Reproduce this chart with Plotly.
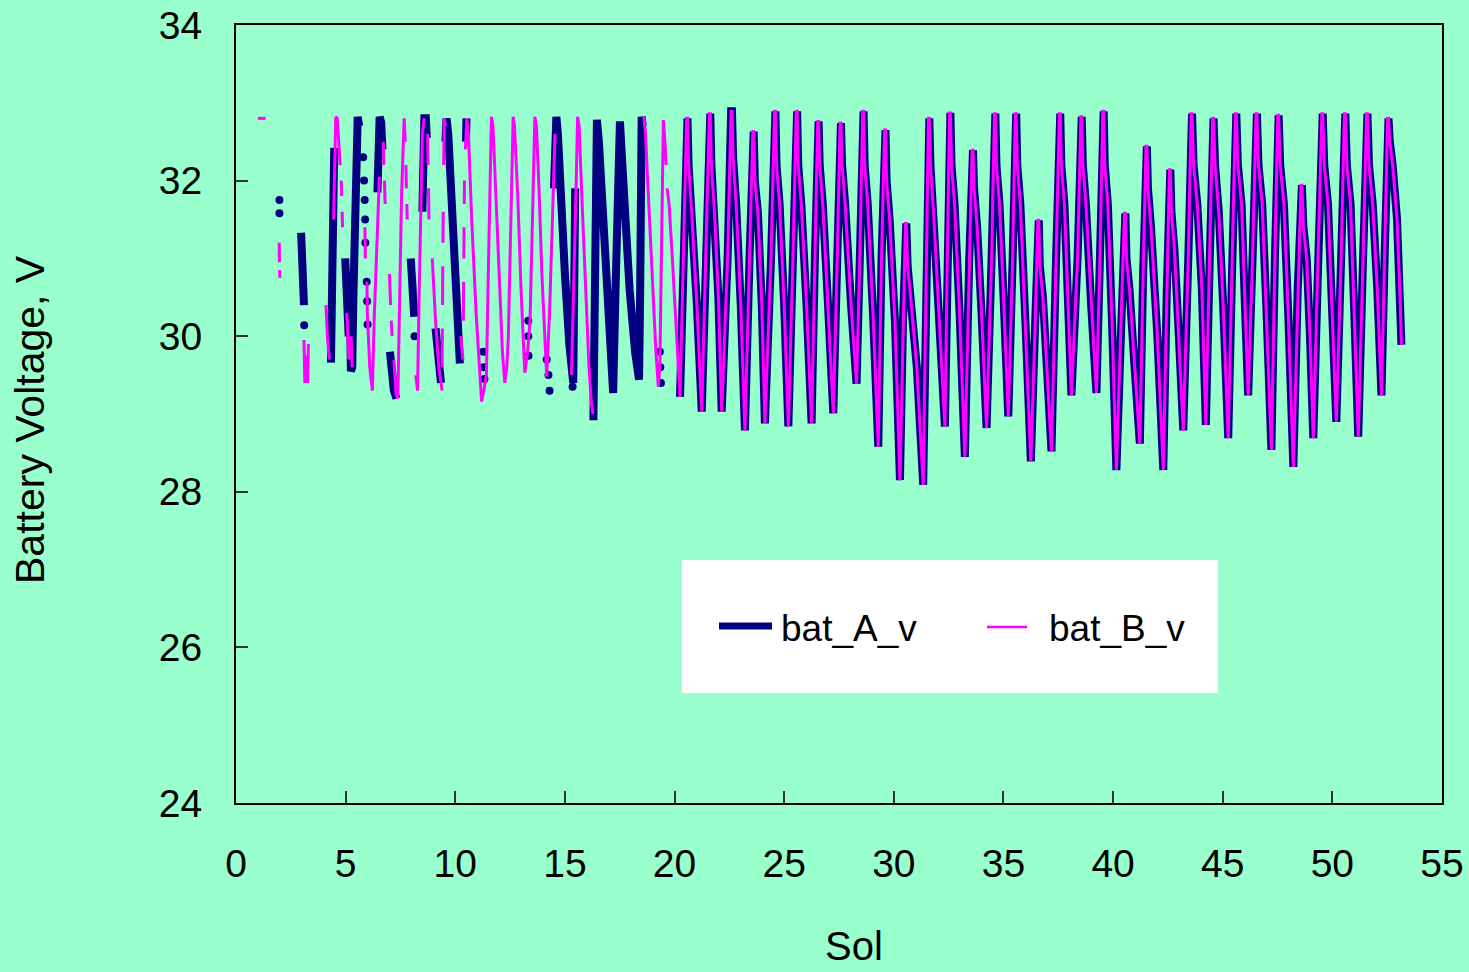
import plotly.graph_objects as go

# ---------------- data ----------------
# bat_A_v, early sols (gappy record); None marks a data gap
A_early_sol = [2.97, 3.04, 3.10, None,
               4.33, 4.40, 4.48, None,
               4.98, 5.06, 5.14, 5.20, 5.24, 5.30, 5.36, 5.40, 5.45, 5.50, 5.55, 5.62, None,
               6.45, 6.48, 6.55, 6.62, 6.68, None,
               7.02, 7.10, 7.20, 7.32, None,
               7.97, 8.03, 8.10, 8.13, None,
               8.50, 8.53, 8.59, 8.66, 8.70, None,
               9.10, 9.20, 9.30, 9.35, None,
               9.55, 9.60, 9.68, 9.80, 9.95, 10.10, 10.21, None,
               10.49, 10.51, None,
               14.50, 14.55, 14.61, 14.68, 14.80, 15.00, 15.20, 15.38, 15.42, 15.47, None,
               16.30, 16.37, 16.42, 16.46, 16.55, 16.70, 16.90, 17.05, 17.20, 17.30, 17.42, 17.51,
               17.60, 17.75, 17.95, 18.20, 18.38, 18.43, 18.47, 18.50, 18.55, None]
A_early_v = [31.33, 30.85, 30.40, None,
             29.66, 31.0, 32.42, None,
             31.0, 30.4, 30.0, 30.3, 29.55, 29.6, 30.6, 31.5, 32.0, 32.4, 32.82, 32.7, None,
             31.85, 32.2, 32.82, 32.75, 32.4, None,
             29.8, 29.5, 29.3, 29.2, None,
             31.0, 30.7, 30.4, 30.25, None,
             31.6, 32.4, 32.8, 32.8, 32.55, None,
             30.1, 29.8, 29.5, 29.4, None,
             32.5, 32.8, 32.6, 31.8, 30.8, 30.0, 29.65, None,
             32.5, 32.8, None,
             31.9, 32.5, 32.82, 32.6, 31.8, 30.8, 29.9, 29.4, 30.5, 31.9, None,
             28.92, 30.5, 32.0, 32.78, 32.5, 31.8, 30.8, 29.8, 29.27, 30.5, 32.0, 32.76,
             32.3, 31.5, 30.6, 29.8, 29.44, 30.5, 31.8, 32.82, 32.7, None]

# bat_A_v isolated samples
A_dot_sol = [1.98, 1.98, 3.11, 5.80, 5.84, 5.87, 5.89, 5.90, 5.96, 5.98, 6.00, 8.14,
             11.28, 11.30, 11.33, 13.33, 13.33, 13.34, 14.17, 14.25, 14.30,
             15.30, 15.33, 15.35, 19.33, 19.35, 19.38]
A_dot_v = [31.75, 31.58, 30.14, 32.3, 32.0, 31.75, 31.5, 31.2, 30.7, 30.45, 30.15, 30.0,
           29.8, 29.6, 29.45, 30.2, 30.0, 29.75, 29.7, 29.5, 29.3,
           29.9, 29.6, 29.35, 29.8, 29.6, 29.4]

# bat_B_v, early sols (gappy / dashed record)
B_early_sol = [1.00, 1.35, None,
               1.97, 1.98, None, 1.99, 2.00, None,
               3.10, 3.14, 3.20, 3.27, 3.30, None,
               4.10, 4.18, 4.26, None,
               4.45, 4.50, 4.55, 4.62, 4.70, 4.75, None,
               4.80, 4.82, None, 4.84, 4.86, None,
               5.05, 5.15, 5.25, 5.30, None,
               5.88, 5.90, None,
               5.97, 5.99, 6.10, 6.22, 6.30, 6.42, 6.54, None,
               6.72, 6.74, None, 6.77, 6.80, None,
               7.00, 7.05, None, 7.08, 7.12, None,
               7.20, 7.30, 7.38, 7.45, 7.55, 7.67, 7.72, None,
               7.75, 7.77, None, 7.79, 7.81, None,
               8.20, 8.28, 8.35, 8.43, 8.50, 8.58, None,
               8.74, 8.76, None, 8.78, 8.80, None,
               8.95, 9.10, 9.25, 9.40, None,
               9.40, 9.41, None, 9.42, 9.43, None, 9.44, 9.45, None,
               9.47, 9.50, 9.55, None,
               10.25, 10.35, None, 10.37, 10.38, None, 10.39, 10.40, None, 10.41, 10.42, None,
               10.46, 10.53, 10.60, 10.75, 10.95, 11.15, 11.20, 11.30, 11.42, 11.52, 11.60, 11.65,
               11.72, 11.85, 12.00, 12.15, 12.26, 12.35, 12.42, 12.52, 12.60, 12.64, 12.70, 12.85,
               13.00, 13.10, 13.17, 13.30, 13.41, 13.52, 13.63, 13.70, 13.82, 13.95, 14.10, 14.17,
               14.30, 14.45, 14.55, None,
               15.30, 15.40, 15.50, 15.58, 15.65, 15.80, 15.95, 16.10, 16.21, 16.28, None,
               18.60, 18.68, 18.74, 18.85, 19.00, 19.15, 19.26, 19.33, 19.40, 19.45, 19.49, 19.56,
               19.62, None,
               19.66, 19.75, 19.90, 20.05, 20.17]
B_early_v = [32.8, 32.8, None,
             31.2, 30.95, None, 30.85, 30.75, None,
             29.95, 29.4, 29.75, 29.4, 29.9, None,
             30.4, 29.95, 29.7, None,
             31.5, 32.3, 32.82, 32.8, 32.5, 32.2, None,
             32.0, 31.8, None, 31.6, 31.4, None,
             30.3, 29.7, 30.0, 29.6, None,
             31.4, 31.0, None,
             30.7, 30.3, 29.6, 29.3, 30.2, 31.2, 32.05, None,
             32.5, 32.2, None, 32.0, 31.7, None,
             30.8, 30.4, None, 30.2, 30.0, None,
             29.7, 29.25, 29.2, 30.5, 31.8, 32.8, 32.5, None,
             32.2, 31.9, None, 31.7, 31.5, None,
             29.5, 29.3, 30.5, 31.9, 32.6, 32.8, None,
             32.6, 32.2, None, 31.9, 31.5, None,
             31.0, 30.2, 29.6, 29.3, None,
             29.6, 30.1, None, 30.4, 30.9, None, 31.2, 31.6, None,
             32.2, 32.8, 32.7, None,
             30.0, 29.7, None, 30.2, 30.7, None, 31.0, 31.4, None, 31.7, 32.0, None,
             32.4, 32.8, 32.6, 31.5, 30.3, 29.4, 29.16, 29.3, 29.5, 31.0, 32.2, 32.82,
             32.7, 31.8, 30.8, 29.8, 29.4, 29.6, 30.0, 31.5, 32.4, 32.82, 32.7, 31.8,
             30.6, 29.9, 29.53, 29.8, 30.2, 31.5, 32.82, 32.7, 31.9, 30.8, 29.8, 29.48,
             30.3, 31.8, 32.6, None,
             29.5, 30.5, 31.8, 32.82, 32.7, 31.6, 30.6, 29.6, 29.14, 29.0, None,
             32.82, 32.6, 32.2, 31.5, 30.6, 29.8, 29.35, 29.6, 31.0, 32.2, 32.78, 32.5,
             32.2, None,
             31.9, 31.7, 31.0, 30.2, 29.57]

# from sol ~20.25 both batteries record continuously (daily charge / discharge cycles)
# per sol: trough, mid-rise, peak, peak plateau, drop, shoulder, late decline
late_sol = [20.25, 20.40, 20.55, 20.59, 20.64, 20.78, 21.02,
            21.24, 21.42, 21.59, 21.63, 21.68, 21.82, 22.00,
            22.15, 22.42, 22.58, 22.62, 22.67, 22.81, 23.02,
            23.21, 23.42, 23.57, 23.61, 23.66, 23.80, 23.98,
            24.12, 24.40, 24.56, 24.60, 24.65, 24.79, 25.00,
            25.19, 25.40, 25.55, 25.59, 25.64, 25.78, 26.02,
            26.25, 26.40, 26.53, 26.57, 26.62, 26.76, 27.00,
            27.24, 27.42, 27.55, 27.59, 27.64, 27.78, 28.05,
            28.30, 28.45, 28.58, 28.62, 28.67, 28.81, 29.05,
            29.29, 29.44, 29.58, 29.62, 29.67, 29.81, 30.05,
            30.28, 30.42, 30.53, 30.57, 30.63, 30.77, 31.05,
            31.34, 31.46, 31.58, 31.62, 31.67, 31.81, 32.05,
            32.33, 32.44, 32.54, 32.58, 32.63, 32.77, 33.00,
            33.24, 33.44, 33.57, 33.61, 33.66, 33.80, 34.00,
            34.23, 34.46, 34.59, 34.63, 34.68, 34.82, 35.02,
            35.22, 35.42, 35.54, 35.58, 35.63, 35.77, 36.00,
            36.25, 36.45, 36.57, 36.61, 36.66, 36.80, 36.98,
            37.19, 37.40, 37.55, 37.59, 37.64, 37.78, 37.95,
            38.10, 38.38, 38.53, 38.57, 38.62, 38.76, 39.00,
            39.24, 39.40, 39.53, 39.57, 39.62, 39.76, 39.95,
            40.15, 40.38, 40.52, 40.56, 40.61, 40.75, 40.98,
            41.22, 41.37, 41.50, 41.54, 41.59, 41.73, 42.02,
            42.29, 42.45, 42.57, 42.61, 42.66, 42.80, 43.00,
            43.20, 43.43, 43.56, 43.60, 43.67, 43.84, 44.05,
            44.23, 44.41, 44.54, 44.58, 44.65, 44.82, 45.02,
            45.25, 45.44, 45.58, 45.62, 45.69, 45.86, 46.00,
            46.16, 46.36, 46.52, 46.56, 46.63, 46.80, 47.00,
            47.22, 47.38, 47.51, 47.55, 47.62, 47.79, 48.00,
            48.22, 48.42, 48.57, 48.61, 48.68, 48.83, 48.98,
            49.13, 49.36, 49.52, 49.56, 49.63, 49.80, 49.98,
            50.18, 50.40, 50.55, 50.59, 50.66, 50.83, 51.00,
            51.18, 51.40, 51.56, 51.60, 51.67, 51.84, 52.05,
            52.24, 52.40, 52.52, 52.56, 52.62, 52.75, 52.95, 53.10, 53.15]
late_A_v = [29.22, 31.0, 32.80, 32.80, 32.2, 31.6, 30.4,
            29.03, 31.0, 32.86, 32.86, 32.2, 31.6, 30.5,
            29.03, 31.0, 32.89, 32.89, 32.3, 31.7, 30.4,
            28.79, 31.0, 32.63, 32.63, 32.0, 31.6, 30.4,
            28.88, 31.0, 32.89, 32.89, 32.2, 31.7, 30.4,
            28.84, 31.0, 32.89, 32.89, 32.2, 31.7, 30.4,
            28.88, 31.0, 32.76, 32.76, 32.2, 31.7, 30.4,
            29.01, 31.0, 32.74, 32.74, 32.2, 31.7, 30.4,
            29.39, 31.0, 32.89, 32.89, 32.2, 31.7, 30.3,
            28.58, 31.0, 32.65, 32.65, 32.0, 31.5, 30.2,
            28.15, 30.2, 31.45, 31.45, 30.9, 30.5, 29.6,
            28.09, 30.6, 32.80, 32.80, 32.2, 31.6, 30.3,
            28.84, 31.0, 32.87, 32.87, 32.2, 31.7, 30.3,
            28.45, 31.0, 32.39, 32.39, 31.9, 31.4, 30.3,
            28.82, 31.0, 32.86, 32.86, 32.2, 31.7, 30.4,
            28.97, 31.0, 32.86, 32.86, 32.2, 31.7, 30.2,
            28.39, 30.2, 31.49, 31.49, 30.9, 30.5, 29.6,
            28.52, 31.0, 32.86, 32.86, 32.2, 31.7, 30.4,
            29.24, 31.0, 32.82, 32.82, 32.2, 31.7, 30.4,
            29.27, 31.0, 32.89, 32.89, 32.2, 31.7, 30.2,
            28.28, 30.2, 31.58, 31.58, 31.0, 30.6, 29.6,
            28.62, 30.8, 32.44, 32.44, 31.9, 31.4, 30.0,
            28.28, 30.6, 32.14, 32.14, 31.6, 31.1, 30.0,
            28.79, 31.0, 32.86, 32.86, 32.2, 31.7, 30.6,
            28.86, 31.0, 32.80, 32.80, 32.2, 31.6, 30.4,
            28.69, 31.0, 32.86, 32.86, 32.2, 31.7, 30.5,
            29.24, 31.0, 32.86, 32.86, 32.2, 31.7, 30.3,
            28.54, 31.0, 32.84, 32.84, 32.2, 31.7, 30.2,
            28.32, 30.6, 31.94, 31.94, 31.4, 31.0, 30.0,
            28.69, 31.0, 32.86, 32.86, 32.2, 31.7, 30.4,
            28.90, 31.0, 32.86, 32.86, 32.2, 31.7, 30.3,
            28.71, 31.0, 32.86, 32.86, 32.2, 31.7, 30.6,
            29.24, 31.2, 32.80, 32.80, 32.5, 32.2, 31.5, 30.4, 29.89]
late_B_v = list(late_A_v)  # bat_B_v overlays bat_A_v in this period

series_names = ["bat_A_v", "bat_B_v"]
x_ticks = [0, 5, 10, 15, 20, 25, 30, 35, 40, 45, 50, 55]
y_ticks = [24, 26, 28, 30, 32, 34]

# ---------------- figure ----------------
W, H = 1469, 972
L, R, T, B = 236, 1442, 25, 803
BG = "#99FFCC"
NAVY = "#000080"
MAG = "#FF00FF"
FONT = "Arial, Liberation Sans, sans-serif"


def px_x(p):
    return (p - L) / (R - L)


def px_y(p):
    return (B - p) / (B - T)


fig = go.Figure()
fig.add_trace(go.Scatter(x=A_early_sol + [None] + late_sol, y=A_early_v + [None] + late_A_v,
                         mode="lines", name=series_names[0], connectgaps=False,
                         line=dict(color=NAVY, width=8), showlegend=False))
fig.add_trace(go.Scatter(x=A_dot_sol, y=A_dot_v, mode="markers", name=series_names[0],
                         marker=dict(color=NAVY, size=8), showlegend=False))
fig.add_trace(go.Scatter(x=B_early_sol + late_sol, y=B_early_v + late_B_v,
                         mode="lines", name=series_names[1], connectgaps=False,
                         line=dict(color=MAG, width=3), showlegend=False))

axis_common = dict(showgrid=False, zeroline=False, showline=True, linecolor="black",
                   linewidth=2, mirror=True, ticks="inside", ticklen=12, tickwidth=1.5,
                   tickcolor="#333333", automargin=False,
                   tickfont=dict(family=FONT, size=39, color="black"))
fig.update_xaxes(range=[0, 55], tickvals=x_ticks, ticklabelstandoff=25, **axis_common)
fig.update_yaxes(range=[24, 34], tickvals=y_ticks, ticklabelstandoff=24, **axis_common)

# legend box (drawn as real shapes + text)
fig.add_shape(type="rect", xref="paper", yref="paper",
              x0=px_x(682), x1=px_x(1218), y0=px_y(693), y1=px_y(560),
              fillcolor="white", line=dict(width=0), layer="above")
fig.add_shape(type="line", xref="paper", yref="paper",
              x0=px_x(719), x1=px_x(772), y0=px_y(626), y1=px_y(626),
              line=dict(color=NAVY, width=7), layer="above")
fig.add_shape(type="line", xref="paper", yref="paper",
              x0=px_x(987), x1=px_x(1027), y0=px_y(627), y1=px_y(627),
              line=dict(color=MAG, width=2.5), layer="above")
fig.add_annotation(text=series_names[0], xref="paper", yref="paper", x=px_x(779), y=px_y(628),
                   xanchor="left", yanchor="middle", showarrow=False,
                   font=dict(family=FONT, size=37, color="black"))
fig.add_annotation(text=series_names[1], xref="paper", yref="paper", x=px_x(1047), y=px_y(628),
                   xanchor="left", yanchor="middle", showarrow=False,
                   font=dict(family=FONT, size=37, color="black"))

# axis titles
fig.add_annotation(text="Sol", xref="paper", yref="paper", x=px_x(854), y=px_y(946),
                   xanchor="center", yanchor="middle", showarrow=False,
                   font=dict(family=FONT, size=40, color="black"))
fig.add_annotation(text="Battery Voltage, V", xref="paper", yref="paper", x=px_x(30), y=px_y(420),
                   xanchor="center", yanchor="middle", showarrow=False, textangle=-90,
                   font=dict(family=FONT, size=41, color="black"))

fig.update_layout(width=W, height=H, autosize=False,
                  margin=dict(l=L, r=W - R, t=T, b=H - B, pad=0),
                  paper_bgcolor=BG, plot_bgcolor=BG, showlegend=False,
                  font=dict(family=FONT, color="black"))

fig.write_html("out.html", config={"displayModeBar": False},
               post_script="document.body.style.margin='0';document.body.style.overflow='hidden';")
